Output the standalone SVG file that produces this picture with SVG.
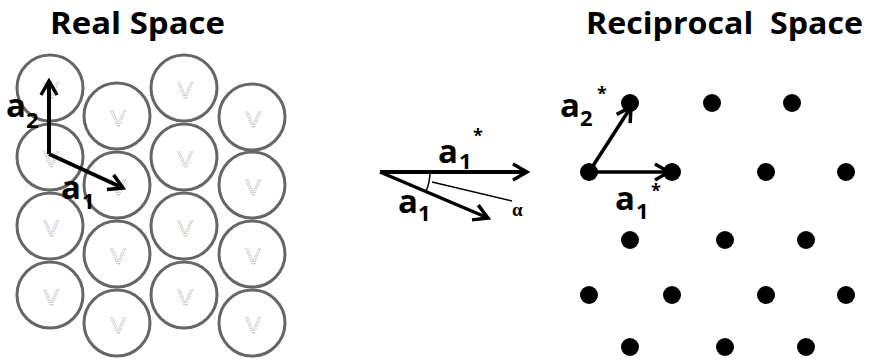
<svg xmlns="http://www.w3.org/2000/svg" width="880" height="362" viewBox="0 0 880 362">
<style>
.title{font-family:"Open Sans","Liberation Sans",sans-serif;font-weight:700;font-size:30px;fill:#000;white-space:pre}
.lab{font-family:"Open Sans","Liberation Sans",sans-serif;font-weight:700;fill:#000}
.big{font-size:33px}
.sub{font-size:22px}
.star{font-size:18px}
.atom circle{fill:#fff;stroke:#666;stroke-width:3}
.atom text{font-family:"Liberation Sans",sans-serif;font-size:22px;fill:none;stroke:#aaa;stroke-width:0.9;stroke-dasharray:1.2 1;text-anchor:middle}
.vec{stroke:#000;stroke-width:4;fill:none;marker-end:url(#chev)}
.dot{fill:#000}
</style>
<defs>
<marker id="chev" viewBox="0 0 20 20" refX="17" refY="10" markerWidth="20" markerHeight="20" markerUnits="userSpaceOnUse" orient="auto">
<path d="M3,2 L17,10 L3,18" fill="none" stroke="#000" stroke-width="3.5"/>
</marker>
</defs>
<rect width="880" height="362" fill="#fff"/>
<text class="title" x="50" y="33.5" textLength="175" lengthAdjust="spacingAndGlyphs">Real Space</text>
<text class="title" x="586" y="33.5" textLength="277" lengthAdjust="spacingAndGlyphs">Reciprocal  Space</text>

<g id="real-lattice">
<g id="atom-1-1" class="atom"><circle cx="50" cy="88" r="33"/><text x="51" y="98">V</text></g>
<g id="atom-1-2" class="atom"><circle cx="50" cy="157" r="33"/><text x="51" y="167">V</text></g>
<g id="atom-1-3" class="atom"><circle cx="50" cy="226" r="33"/><text x="51" y="236">V</text></g>
<g id="atom-1-4" class="atom"><circle cx="50" cy="295" r="33"/><text x="51" y="305">V</text></g>
<g id="atom-2-1" class="atom"><circle cx="117" cy="116" r="33"/><text x="118" y="126">V</text></g>
<g id="atom-2-2" class="atom"><circle cx="117" cy="185" r="33"/><text x="118" y="195">V</text></g>
<g id="atom-2-3" class="atom"><circle cx="117" cy="254" r="33"/><text x="118" y="264">V</text></g>
<g id="atom-2-4" class="atom"><circle cx="117" cy="323" r="33"/><text x="118" y="333">V</text></g>
<g id="atom-3-1" class="atom"><circle cx="184" cy="88" r="33"/><text x="185" y="98">V</text></g>
<g id="atom-3-2" class="atom"><circle cx="184" cy="157" r="33"/><text x="185" y="167">V</text></g>
<g id="atom-3-3" class="atom"><circle cx="184" cy="226" r="33"/><text x="185" y="236">V</text></g>
<g id="atom-3-4" class="atom"><circle cx="184" cy="295" r="33"/><text x="185" y="305">V</text></g>
<g id="atom-4-1" class="atom"><circle cx="252" cy="117" r="33"/><text x="253" y="127">V</text></g>
<g id="atom-4-2" class="atom"><circle cx="252" cy="185" r="33"/><text x="253" y="195">V</text></g>
<g id="atom-4-3" class="atom"><circle cx="252" cy="254" r="33"/><text x="253" y="264">V</text></g>
<g id="atom-4-4" class="atom"><circle cx="252" cy="323" r="33"/><text x="253" y="333">V</text></g>
</g>

<g id="reciprocal-lattice">
<circle class="dot" cx="630" cy="103" r="9"/>
<circle class="dot" cx="712" cy="103" r="9"/>
<circle class="dot" cx="792" cy="103" r="9"/>
<circle class="dot" cx="589" cy="172" r="9"/>
<circle class="dot" cx="672" cy="172" r="9"/>
<circle class="dot" cx="766" cy="172" r="9"/>
<circle class="dot" cx="846" cy="172" r="9"/>
<circle class="dot" cx="630" cy="240" r="9"/>
<circle class="dot" cx="725" cy="240" r="9"/>
<circle class="dot" cx="806" cy="240" r="9"/>
<circle class="dot" cx="589" cy="295" r="9"/>
<circle class="dot" cx="672" cy="295" r="9"/>
<circle class="dot" cx="766" cy="295" r="9"/>
<circle class="dot" cx="846" cy="295" r="9"/>
<circle class="dot" cx="630" cy="347" r="9"/>
<circle class="dot" cx="725" cy="347" r="9"/>
<circle class="dot" cx="806" cy="347" r="9"/>
</g>

<g id="connectors">
<line class="vec" x1="49" y1="154" x2="49" y2="81"/>
<line class="vec" x1="49" y1="154" x2="123" y2="188"/>
<line class="vec" x1="380" y1="172" x2="527" y2="172"/>
<line class="vec" x1="380" y1="172" x2="488" y2="218" style="stroke-width:3.5"/>
<path d="M430,172 A50,50 0 0 1 426,191.5" fill="none" stroke="#000" stroke-width="1.5"/>
<line x1="432" y1="182" x2="512" y2="201" stroke="#000" stroke-width="1.5"/>
<line class="vec" x1="589" y1="172" x2="631" y2="107" style="stroke-width:3.5"/>
<line class="vec" x1="589" y1="172" x2="669" y2="172" style="stroke-width:3.5"/>
</g>

<g id="labels">
<text class="lab" x="6" y="117"><tspan class="big">a</tspan><tspan class="sub" x="26" y="128">2</tspan></text>
<text class="lab" x="61" y="199"><tspan class="big">a</tspan><tspan class="sub" x="82" y="209">1</tspan></text>
<text class="lab" x="438" y="163"><tspan class="big">a</tspan><tspan class="sub" x="459" y="169">1</tspan><tspan class="star" x="473" y="142">*</tspan></text>
<text class="lab" x="398" y="213"><tspan class="big">a</tspan><tspan class="sub" x="418" y="221">1</tspan></text>
<text x="512" y="216" style="font-family:'Liberation Serif',serif;font-size:19px;font-weight:700;fill:#000">α</text>
<text class="lab" x="560" y="117"><tspan class="big">a</tspan><tspan class="sub" x="580" y="126">2</tspan><tspan class="star" x="597" y="100">*</tspan></text>
<text class="lab" x="615" y="210"><tspan class="big">a</tspan><tspan class="sub" x="636" y="219">1</tspan><tspan class="star" x="651" y="197">*</tspan></text>
</g>
</svg>
